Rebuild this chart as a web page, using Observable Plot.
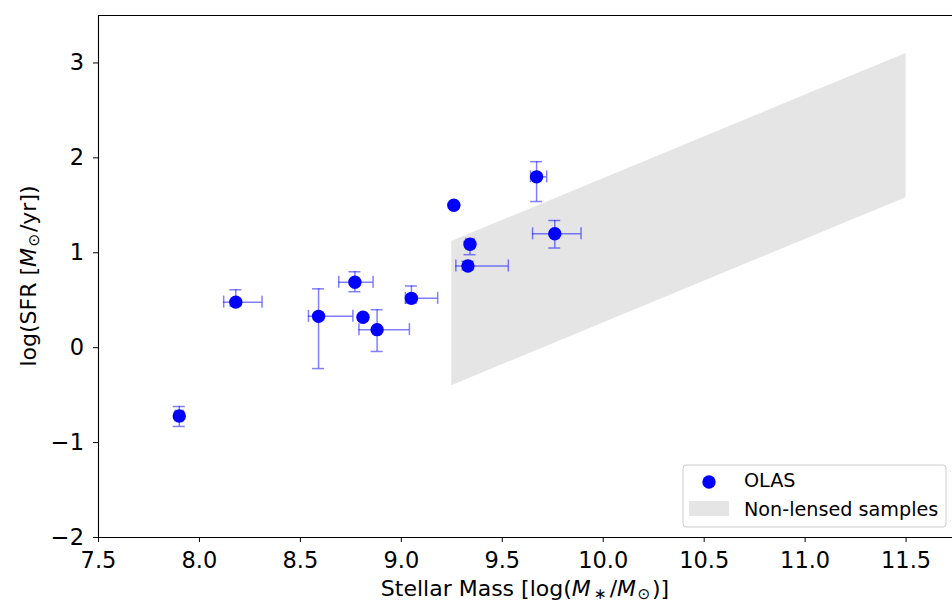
<!DOCTYPE html>
<html>
<head>
<meta charset="utf-8">
<script src="https://cdn.jsdelivr.net/npm/d3@7"></script>
<script src="https://cdn.jsdelivr.net/npm/@observablehq/plot@0.6"></script>
<style>
  html, body { margin: 0; padding: 0; background: #fff; overflow: hidden; }
  svg { display: block; }
</style>
</head>
<body>
<div id="chart"></div>
<script>
// OLAS galaxies: stellar mass and star-formation rate with error ranges
const mass    = [7.90, 8.18, 8.59, 8.77, 8.81, 8.88, 9.05, 9.26, 9.34, 9.33, 9.67, 9.76];
const sfr     = [-0.72, 0.48, 0.33, 0.69, 0.32, 0.19, 0.52, 1.50, 1.09, 0.86, 1.80, 1.20];
const massLo  = [7.88, 8.12, 8.54, 8.69, null, 8.79, 9.02, null, 9.32, 9.27, 9.64, 9.65];
const massHi  = [7.92, 8.31, 8.76, 8.86, null, 9.04, 9.18, null, 9.36, 9.53, 9.72, 9.89];
const sfrLo   = [-0.83, 0.44, -0.22, 0.59, null, -0.04, 0.47, null, 0.98, 0.82, 1.54, 1.05];
const sfrHi   = [-0.62, 0.61, 0.62, 0.80, null, 0.40, 0.65, null, 1.12, 0.91, 1.96, 1.34];

// Region occupied by non-lensed samples
const bandMass = [9.25, 11.5];
const bandLow  = [-0.40, 1.58];
const bandHigh = [1.12, 3.10];

// Axis ticks
const xTicks = [7.5, 8.0, 8.5, 9.0, 9.5, 10.0, 10.5, 11.0, 11.5];
const yTicks = [-2, -1, 0, 1, 2, 3];

const rows = mass.map((m, i) => ({
  mass: m, sfr: sfr[i], mLo: massLo[i], mHi: massHi[i], sLo: sfrLo[i], sHi: sfrHi[i]
}));
const withX = rows.filter(d => d.mLo != null);
const withY = rows.filter(d => d.sLo != null);
const band = bandMass.map((m, i) => ({ mass: m, lo: bandLow[i], hi: bandHigh[i] }));

const W = 952, H = 604, mL = 98, mR = 0, mT = 15, mB = 67;
const FONT = "'DejaVu Sans', sans-serif";
const TICK_FS = 22.5, LABEL_FS = 22, LEGEND_FS = 19.2;
const err = { stroke: "blue", strokeOpacity: 0.5, strokeWidth: 1.5 };
const cap = 6;
const minus = d => (d < 0 ? "\u2212" + Math.abs(d) : String(d));

const chart = Plot.plot({
  width: W, height: H,
  marginLeft: mL, marginRight: mR, marginTop: mT, marginBottom: mB,
  style: { fontFamily: FONT, fontSize: TICK_FS + "px", color: "black", background: "white", overflow: "visible" },
  x: { domain: [7.5, 11.73] },
  y: { domain: [-2, 3.5] },
  marks: [
    Plot.areaY(band, { x: "mass", y1: "lo", y2: "hi", fill: "#e5e5e5" }),
    // horizontal error bars and their caps
    Plot.ruleY(withX, { y: "sfr", x1: "mLo", x2: "mHi", ...err }),
    Plot.ruleX(withX, { x: "mLo", y1: "sfr", y2: "sfr", insetTop: -cap, insetBottom: -cap, ...err }),
    Plot.ruleX(withX, { x: "mHi", y1: "sfr", y2: "sfr", insetTop: -cap, insetBottom: -cap, ...err }),
    // vertical error bars and their caps
    Plot.ruleX(withY, { x: "mass", y1: "sLo", y2: "sHi", ...err }),
    Plot.ruleY(withY, { y: "sLo", x1: "mass", x2: "mass", insetLeft: -cap, insetRight: -cap, ...err }),
    Plot.ruleY(withY, { y: "sHi", x1: "mass", x2: "mass", insetLeft: -cap, insetRight: -cap, ...err }),
    Plot.dot(rows, { x: "mass", y: "sfr", r: 6.7, fill: "blue", stroke: "none" }),
    // spines
    Plot.ruleX([7.5], { stroke: "black", strokeWidth: 1.1 }),
    Plot.ruleY([-2, 3.5], { stroke: "black", strokeWidth: 1.1 }),
    Plot.axisX(xTicks, { tickSize: 5, tickPadding: 10, tickFormat: d3.format(".1f"), label: null, fontSize: TICK_FS }),
    Plot.axisY(yTicks, { tickSize: 5, tickPadding: 9.5, tickFormat: minus, label: null, fontSize: TICK_FS })
  ]
});

document.getElementById("chart").appendChild(chart);

const svg = d3.select(chart);
const plotRight = W - mR, plotBottom = H - mB;

// Helper for a run of text pieces with italic and subscript styling
function addPieces(text, fs, pieces) {
  const shift = fs * 0.14;
  for (const p of pieces) {
    const t = text.append("tspan").text(p.t);
    if (p.it) t.attr("font-style", "italic");
    if (p.sub) t.attr("font-size", fs * 0.7).attr("dy", shift);
    if (p.after) t.attr("dy", -shift);
    if (p.dx) t.attr("dx", p.dx);
  }
}

// x-axis title
const xl = svg.append("text")
  .attr("x", (mL + plotRight) / 2).attr("y", 596)
  .attr("text-anchor", "middle").attr("font-family", FONT).attr("font-size", LABEL_FS).attr("fill", "black");
addPieces(xl, LABEL_FS, [
  { t: "Stellar Mass [log(" },
  { t: "M", it: true },
  { t: "\u2217", sub: true, dx: 3 },
  { t: "/", after: true, dx: 3 },
  { t: "M", it: true },
  { t: "\u2299", sub: true, dx: 1.5 },
  { t: ")]", after: true, dx: 1.5 }
]);

// y-axis title
const yl = svg.append("text")
  .attr("transform", `translate(36,${(mT + plotBottom) / 2}) rotate(-90)`)
  .attr("text-anchor", "middle").attr("font-family", FONT).attr("font-size", LABEL_FS).attr("fill", "black");
addPieces(yl, LABEL_FS, [
  { t: "log(SFR [" },
  { t: "M", it: true },
  { t: "\u2299", sub: true, dx: 1.5 },
  { t: "/yr])", after: true, dx: 1.5 }
]);

// legend in the lower-right corner
const lg = svg.append("g").attr("font-family", FONT).attr("font-size", LEGEND_FS).attr("text-anchor", "start");
const lx = plotRight - 269, ly = plotBottom - 72, lw = 263, lh = 62;
lg.append("rect").attr("x", lx).attr("y", ly).attr("width", lw).attr("height", lh)
  .attr("rx", 3).attr("fill", "white").attr("fill-opacity", 0.8)
  .attr("stroke", "#cccccc").attr("stroke-width", 1);
lg.append("circle").attr("cx", lx + 26).attr("cy", ly + 17).attr("r", 6.7).attr("fill", "blue");
lg.append("text").attr("x", lx + 61).attr("y", ly + 22).attr("fill", "black").text("OLAS");
lg.append("rect").attr("x", lx + 6).attr("y", ly + 36).attr("width", 40).attr("height", 15).attr("fill", "#e5e5e5");
lg.append("text").attr("x", lx + 61).attr("y", ly + 51).attr("fill", "black").text("Non-lensed samples");
</script>
</body>
</html>
